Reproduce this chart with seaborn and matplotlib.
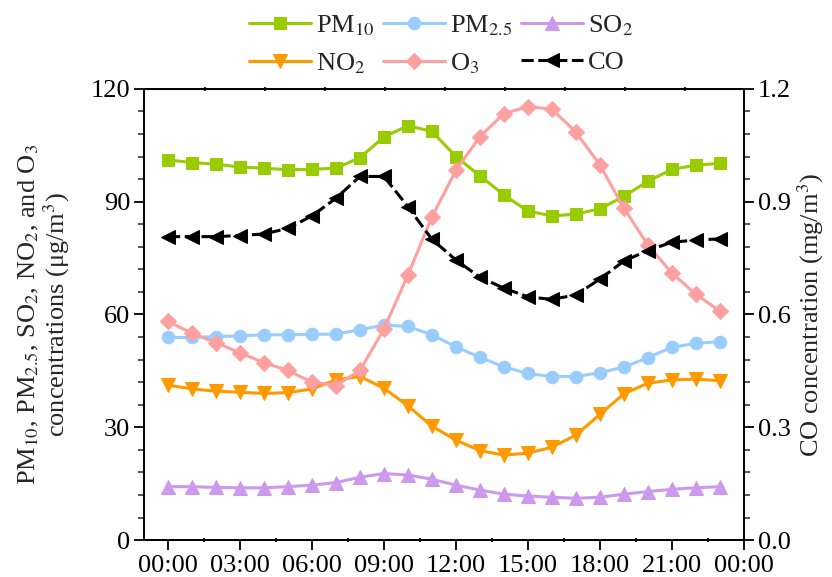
import numpy as np
import pandas as pd
import matplotlib.pyplot as plt
import seaborn as sns
from matplotlib.ticker import MultipleLocator, FormatStrFormatter

hours = list(range(24))
pm10 = [101.1, 100.4, 100.0, 99.2, 98.9, 98.5, 98.6, 98.9, 101.7, 107.2, 110.2, 108.7,
        102.0, 96.9, 91.8, 87.5, 86.2, 86.7, 88.1, 91.4, 95.4, 98.6, 99.7, 100.2]
pm25 = [53.9, 53.9, 54.1, 54.3, 54.6, 54.6, 54.7, 54.8, 55.9, 57.2, 56.8, 54.6,
        51.4, 48.6, 46.1, 44.3, 43.5, 43.5, 44.5, 46.0, 48.5, 51.3, 52.3, 52.8]
so2 = [14.2, 14.2, 14.0, 13.9, 13.9, 14.2, 14.6, 15.3, 16.7, 17.7, 17.3, 16.2,
       14.6, 13.3, 12.2, 11.7, 11.4, 11.1, 11.4, 12.2, 12.9, 13.5, 13.9, 14.2]
no2 = [41.2, 40.2, 39.6, 39.3, 39.0, 39.2, 40.2, 42.6, 43.5, 40.4, 35.7, 30.3,
       26.6, 23.8, 22.6, 23.1, 24.7, 27.9, 33.4, 38.9, 41.7, 42.6, 42.8, 42.4]
o3 = [58.2, 55.0, 52.5, 49.8, 47.2, 45.1, 42.0, 41.1, 45.1, 56.1, 70.5, 85.9,
      98.3, 107.3, 113.4, 115.3, 114.6, 108.5, 99.8, 88.3, 78.5, 71.0, 65.4, 60.9]
co = [0.807, 0.807, 0.807, 0.810, 0.814, 0.829, 0.862, 0.909, 0.967, 0.967, 0.887, 0.800,
      0.745, 0.699, 0.670, 0.647, 0.640, 0.652, 0.694, 0.742, 0.770, 0.792, 0.798, 0.801]
xtick_labels = ['00:00', '03:00', '06:00', '09:00', '12:00', '15:00', '18:00', '21:00', '00:00']

df = pd.DataFrame({'hour': hours, 'PM10': pm10, 'PM25': pm25, 'SO2': so2,
                   'NO2': no2, 'O3': o3, 'CO': co})

sns.set_style('ticks')
plt.rcParams['font.family'] = ['Liberation Serif', 'DejaVu Serif']
plt.rcParams['mathtext.fontset'] = 'stix'
fs = 19

fig = plt.figure(figsize=(8.32, 5.77), dpi=100)
ax = fig.add_axes([0.173, 0.064, 0.721, 0.782])
ax2 = ax.twinx()

series = [
    ('PM10', r'PM$_{10}$', '#99CC00', 's', 8.5),
    ('PM25', r'PM$_{2.5}$', '#99CCFF', 'o', 9),
    ('SO2', r'SO$_2$', '#CC99EE', '^', 9.5),
    ('NO2', r'NO$_2$', '#FF9900', 'v', 9.5),
    ('O3', r'O$_3$', '#FFA0A0', 'D', 8.5),
]
handles = {}
for col, lab, c, m, ms in series:
    sns.lineplot(data=df, x='hour', y=col, ax=ax, color=c, marker=m, markersize=ms,
                 markeredgecolor=c, markerfacecolor=c, linewidth=2.2, label=lab, legend=False)
    handles[col] = ax.lines[-1]

sns.lineplot(data=df, x='hour', y='CO', ax=ax2, color='black', marker='<', markersize=10.5,
             markeredgecolor='black', markerfacecolor='black', linewidth=2.2,
             linestyle=(0, (4, 1.5)), label='CO', legend=False)
handles['CO'] = ax2.lines[-1]

ax.set_xlim(-1, 24)
ax.set_ylim(0, 120)
ax2.set_ylim(0, 1.2)
ax.set_xticks(range(0, 25, 3))
ax.set_xticklabels(xtick_labels)
ax.xaxis.set_minor_locator(MultipleLocator(1.5))
ax.yaxis.set_major_locator(MultipleLocator(30))
ax.yaxis.set_minor_locator(MultipleLocator(6))
ax2.yaxis.set_major_locator(MultipleLocator(0.3))
ax2.yaxis.set_minor_locator(MultipleLocator(0.06))
ax2.yaxis.set_major_formatter(FormatStrFormatter('%.1f'))

for a in (ax, ax2):
    for s in a.spines.values():
        s.set_linewidth(1.3)
        s.set_color('black')
    a.tick_params(which='major', direction='out', length=7, width=1.3, labelsize=fs, colors='black')
    a.tick_params(which='minor', direction='out', length=4.5, width=1.1)
ax.tick_params(axis='x', which='minor', direction='inout', length=3, width=1.5)
ax.tick_params(axis='x', which='major', pad=4)
ax.tick_params(axis='y', which='major', pad=3)
ax2.tick_params(axis='y', which='major', pad=3)

top = ax.secondary_xaxis('top')
top.set_xticks(np.arange(1.54, 23, 2.5))
top.tick_params(direction='inout', length=3, width=1.5, labeltop=False)

ax.set_xlabel('')
ax.set_ylabel('PM$_{10}$, PM$_{2.5}$, SO$_2$, NO$_2$, and O$_3$\nconcentrations (μg/m$^3$)',
              fontsize=fs, linespacing=1.05, labelpad=13)
ax2.set_ylabel('CO concentration (mg/m$^3$)', fontsize=fs, rotation=90, labelpad=3)

order = ['PM10', 'NO2', 'PM25', 'O3', 'SO2', 'CO']
labels = {'PM10': r'PM$_{10}$', 'PM25': r'PM$_{2.5}$', 'SO2': r'SO$_2$',
          'NO2': r'NO$_2$', 'O3': r'O$_3$', 'CO': 'CO'}
ax.legend([handles[k] for k in order], [labels[k] for k in order], ncol=3,
          loc='lower center', bbox_to_anchor=(0.495, 1.012), frameon=False, fontsize=fs,
          handlelength=2.35, handletextpad=0.2, columnspacing=0.3, labelspacing=0.5,
          borderaxespad=0.2, borderpad=0.1)

fig.savefig('out.png', dpi=100)
